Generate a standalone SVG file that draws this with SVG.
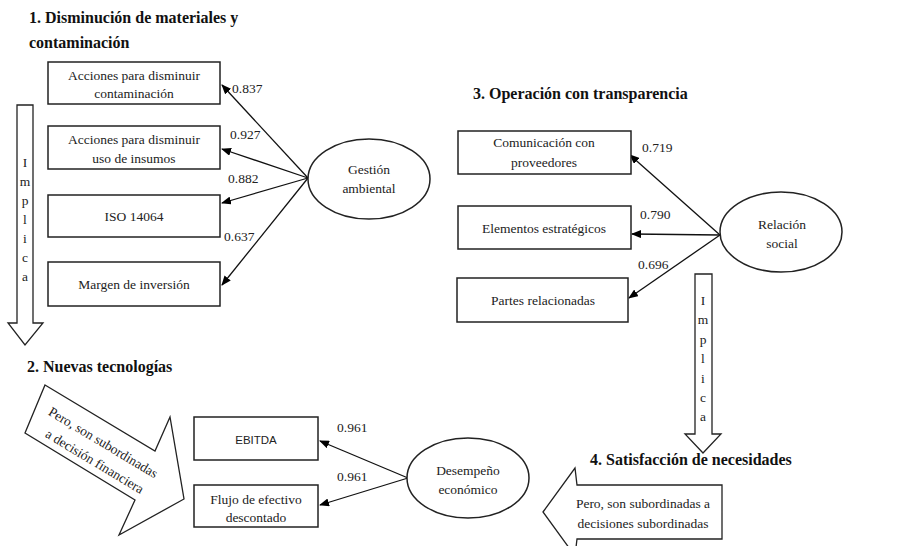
<svg xmlns="http://www.w3.org/2000/svg" width="921" height="546" viewBox="0 0 921 546" font-family="Liberation Serif, Times New Roman, serif">
<defs>
<marker id="ah" markerUnits="userSpaceOnUse" markerWidth="10" markerHeight="8" refX="9" refY="4" orient="auto">
<path d="M0,0 L10,4 L0,8 Z" fill="#000"/>
</marker>
<style>
.box{fill:#fff;stroke:#222;stroke-width:1.5}
.ell{fill:#fff;stroke:#222;stroke-width:1.5}
.big{fill:#fff;stroke:#222;stroke-width:1.3}
.t{font-family:'Liberation Serif',serif;font-size:13.5px;fill:#222}
.c{text-anchor:middle}
.h{font-family:'Liberation Serif',serif;font-size:16px;font-weight:bold;fill:#111}
.s{font-family:'Liberation Sans',sans-serif;font-size:11.5px;fill:#222;text-anchor:middle}
.con{stroke:#111;stroke-width:1.3;fill:none;marker-end:url(#ah)}
</style>
</defs>
<rect width="921" height="546" fill="#fff"/>

<g id="titles">
<text class="h" x="29" y="23">1. Disminución de materiales y</text>
<text class="h" x="29" y="48">contaminación</text>
<text class="h" x="27" y="372">2. Nuevas tecnologías</text>
<text class="h" x="473" y="99">3. Operación con transparencia</text>
</g>

<g id="implica-left">
<polygon class="big" points="17,105 33,105 33,323 43,323 25,345 8,323 17,323"/>
<text class="t c" x="25" y="167">I</text>
<text class="t c" x="25" y="186">m</text>
<text class="t c" x="25" y="205">p</text>
<text class="t c" x="25" y="224">l</text>
<text class="t c" x="25" y="243">i</text>
<text class="t c" x="25" y="262">c</text>
<text class="t c" x="25" y="281">a</text>
</g>

<g id="implica-right">
<polygon class="big" points="695,274 712,274 712,434 721,434 703,453 685,434 695,434"/>
<text class="t c" x="703" y="305">I</text>
<text class="t c" x="703" y="324">m</text>
<text class="t c" x="703" y="344">p</text>
<text class="t c" x="703" y="363">l</text>
<text class="t c" x="703" y="383">i</text>
<text class="t c" x="703" y="402">c</text>
<text class="t c" x="703" y="421">a</text>
</g>

<g id="pero-financiera">
<polygon class="big" points="45,385 155,451 170,417 184,499 119,535 135,500 25,433"/>
<text class="t c" transform="translate(103,443) rotate(31)" y="4">Pero, son subordinadas</text>
<text class="t c" transform="translate(95,461) rotate(31)" y="5">a decisión financiera</text>
</g>

<g id="pero-decisiones">
<polygon class="big" points="543,512 575,468 577,485 722,485 722,539 577,539 575,556"/>
<text class="t c" x="643" y="508">Pero, son subordinadas a</text>
<text class="t c" x="643" y="528">decisiones subordinadas</text>
</g>

<g id="title4">
<text class="h" x="590" y="465">4. Satisfacción de necesidades</text>
</g>

<g id="connectors">
<line class="con" x1="308" y1="178" x2="222" y2="85"/>
<line class="con" x1="308" y1="178" x2="222" y2="149"/>
<line class="con" x1="308" y1="178" x2="222" y2="203"/>
<line class="con" x1="308" y1="178" x2="222" y2="285"/>
<line class="con" x1="720" y1="235" x2="630" y2="155"/>
<line class="con" x1="720" y1="235" x2="632" y2="234"/>
<line class="con" x1="720" y1="235" x2="629" y2="298"/>
<line class="con" x1="408" y1="478" x2="320" y2="441"/>
<line class="con" x1="408" y1="478" x2="320" y2="505"/>
<text class="t" x="232" y="93">0.837</text>
<text class="t" x="230" y="139">0.927</text>
<text class="t" x="228" y="183">0.882</text>
<text class="t" x="224" y="241">0.637</text>
<text class="t" x="642" y="152">0.719</text>
<text class="t" x="640" y="219">0.790</text>
<text class="t" x="638" y="269">0.696</text>
<text class="t" x="337" y="432">0.961</text>
<text class="t" x="337" y="481">0.961</text>
</g>

<g id="n-acciones-contaminacion">
<rect class="box" x="48" y="62" width="172" height="42"/>
<text class="t c" x="134" y="80">Acciones para disminuir</text>
<text class="t c" x="134" y="98">contaminación</text>
</g>
<g id="n-acciones-insumos">
<rect class="box" x="48" y="126" width="172" height="43"/>
<text class="t c" x="134" y="144">Acciones para disminuir</text>
<text class="t c" x="134" y="163">uso de insumos</text>
</g>
<g id="n-iso">
<rect class="box" x="48" y="195" width="172" height="42"/>
<text class="t c" x="134" y="221">ISO 14064</text>
</g>
<g id="n-margen">
<rect class="box" x="48" y="262" width="172" height="44"/>
<text class="t c" x="134" y="289">Margen de inversión</text>
</g>
<g id="n-gestion">
<ellipse class="ell" cx="369" cy="179" rx="61" ry="40"/>
<text class="t c" x="369" y="174">Gestión</text>
<text class="t c" x="369" y="193">ambiental</text>
</g>

<g id="n-comunicacion">
<rect class="box" x="458" y="131" width="173" height="43"/>
<text class="t c" x="544" y="147">Comunicación con</text>
<text class="t c" x="544" y="167">proveedores</text>
</g>
<g id="n-elementos">
<rect class="box" x="458" y="206" width="173" height="43"/>
<text class="t c" x="544" y="233">Elementos estratégicos</text>
</g>
<g id="n-partes">
<rect class="box" x="457" y="278" width="171" height="44"/>
<text class="t c" x="543" y="305">Partes relacionadas</text>
</g>
<g id="n-relacion">
<ellipse class="ell" cx="781" cy="232" rx="61" ry="40"/>
<text class="t c" x="782" y="229">Relación</text>
<text class="t c" x="782" y="248">social</text>
</g>

<g id="n-ebitda">
<rect class="box" x="194" y="417" width="124" height="43"/>
<text class="s" x="256" y="444">EBITDA</text>
</g>
<g id="n-flujo">
<rect class="box" x="194" y="485" width="124" height="42"/>
<text class="t c" x="256" y="504">Flujo de efectivo</text>
<text class="t c" x="256" y="522">descontado</text>
</g>
<g id="n-desempeno">
<ellipse class="ell" cx="468" cy="478" rx="61" ry="40"/>
<text class="t c" x="468" y="475">Desempeño</text>
<text class="t c" x="468" y="494">económico</text>
</g>
</svg>
